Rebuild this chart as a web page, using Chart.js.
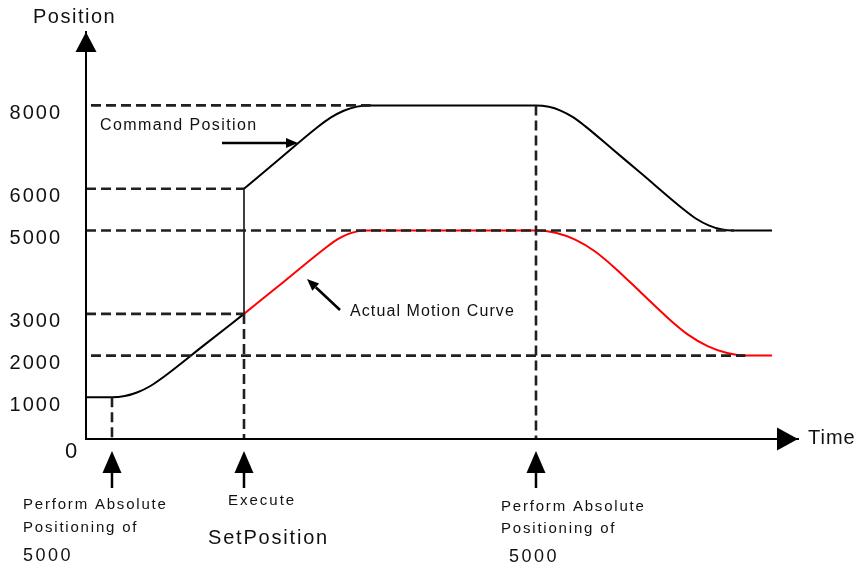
<!DOCTYPE html>
<html>
<head>
<meta charset="utf-8">
<script src="https://cdn.jsdelivr.net/npm/chart.js@4/dist/chart.umd.min.js"></script>
<style>
html,body{margin:0;padding:0;background:#fff;}
#c{display:block;}
</style>
</head>
<body>
<canvas id="c" width="861" height="567"></canvas>
<script>
// ---- data (time in arbitrary units, position in pulses) ----
const yTickValues = [1000, 2000, 3000, 5000, 6000, 8000];

const cmdBeforeT = [0, 3.65, 5.45, 7.25, 9.05, 10.85, 16.5, 22.19];
const cmdBeforeV = [1000, 1000, 1030, 1121, 1271, 1482, 2239, 3000];

const jumpT = [22.19, 22.19];
const jumpV = [3000, 6000];

const cmdAfterT = [22.19, 27, 32.5, 34.35, 36.2, 38.05, 39.9, 63.2, 65.0, 66.65, 68.4, 70.1, 74, 78, 84.0, 85.7, 87.45, 89.2, 90.9, 96.35];
const cmdAfterV = [6000, 6688, 7474, 7705, 7871, 7970, 8000, 8000, 7966, 7876, 7718, 7503, 6941, 6365, 5497, 5282, 5124, 5030, 5000, 5000];

const actualT = [22.19, 28, 33.9, 35.3, 36.7, 38.1, 39.5, 63.2, 65.95, 68.7, 71.45, 74.2, 78, 81.8, 84.55, 87.3, 90.05, 92.8, 96.35];
const actualV = [3000, 3802, 4616, 4785, 4906, 4979, 5000, 5000, 4945, 4779, 4502, 4115, 3503, 2891, 2503, 2227, 2061, 2000, 2000];

const refLevels = [8000, 6000, 5000, 3000, 2000];
const refStartT = [0.7, 0, 0, 0, 0.7];
const refEndT = [40, 22.19, 91, 22.19, 92.6];

const eventT = [3.65, 22.19, 63.2];
const eventTopV = [1000, 3000, 8000];

const FONT = '"Liberation Sans", Arial, Helvetica, sans-serif';
const DASH_COLOR = '#231f20';

function pts(xs, ys){ return xs.map((x,i)=>({x:x, y:ys[i]})); }

const datasets = [];
// dashed reference lines (drawn on top)
refLevels.forEach((v,i)=>{
  datasets.push({label:'ref'+v, data:[{x:refStartT[i],y:v},{x:refEndT[i],y:v}],
    borderColor:DASH_COLOR, borderWidth:2.6, borderDash:[10,5], pointRadius:0, showLine:true, tension:0});
});
eventT.forEach((t,i)=>{
  datasets.push({label:'ev'+i, data:[{x:t,y:eventTopV[i]},{x:t,y:0}],
    borderColor:DASH_COLOR, borderWidth:2.6, borderDash:[10,5], pointRadius:0, showLine:true, tension:0});
});
datasets.push({label:'Jump', data:pts(jumpT,jumpV), borderColor:'#111', borderWidth:1.6, pointRadius:0, showLine:true, tension:0});
datasets.push({label:'Command before', data:pts(cmdBeforeT,cmdBeforeV), borderColor:'#000', borderWidth:2, pointRadius:0, showLine:true, cubicInterpolationMode:'monotone'});
datasets.push({label:'Command Position', data:pts(cmdAfterT,cmdAfterV), borderColor:'#000', borderWidth:2, pointRadius:0, showLine:true, cubicInterpolationMode:'monotone'});
datasets.push({label:'Actual Motion Curve', data:pts(actualT,actualV), borderColor:'#ff0000', borderWidth:2, pointRadius:0, showLine:true, cubicInterpolationMode:'monotone'});

function txt(ctx, s, x, y, size, spacing, align){
  ctx.save();
  ctx.font = size + 'px ' + FONT;
  try { ctx.letterSpacing = (spacing||0) + 'px'; } catch(e) {}
  ctx.fillStyle = '#111';
  ctx.textAlign = align || 'left';
  ctx.textBaseline = 'middle';
  ctx.fillText(s, x, y);
  ctx.restore();
}
function arrow(ctx, x1, y1, x2, y2, headLen, headHalf, lw){
  const a = Math.atan2(y2-y1, x2-x1);
  const bx = x2 - headLen*Math.cos(a), by = y2 - headLen*Math.sin(a);
  ctx.save();
  ctx.strokeStyle = '#000'; ctx.fillStyle = '#000'; ctx.lineWidth = lw;
  ctx.beginPath(); ctx.moveTo(x1,y1); ctx.lineTo(bx,by); ctx.stroke();
  ctx.beginPath();
  ctx.moveTo(x2,y2);
  ctx.lineTo(bx + headHalf*Math.sin(a), by - headHalf*Math.cos(a));
  ctx.lineTo(bx - headHalf*Math.sin(a), by + headHalf*Math.cos(a));
  ctx.closePath(); ctx.fill();
  ctx.restore();
}

const annotations = {
  id:'annotations',
  beforeDraw(chart){
    try { chart.ctx.letterSpacing = '2px'; } catch(e) {}
  },
  beforeDatasetsDraw(chart){
    try { chart.ctx.letterSpacing = '0px'; } catch(e) {}
  },
  afterDraw(chart){
    const ctx = chart.ctx, a = chart.chartArea;
    const xs = chart.scales.x, ys = chart.scales.y;
    const ox = xs.getPixelForValue(0), oy = ys.getPixelForValue(0);
    // axis arrowheads
    arrow(ctx, ox, oy, ox, a.top, 20, 10.5, 2);
    arrow(ctx, ox, oy, a.right, oy, 21, 11.5, 2);
    txt(ctx, 'Position', 33, 17, 20, 1.5);
    txt(ctx, 'Time', a.right + 10, oy - 1, 20, 1);
    txt(ctx, '0', 65, 452, 22, 0);
    // callouts
    txt(ctx, 'Command Position', 100, 126, 16, 1.4);
    arrow(ctx, 222, 143, 298, 143, 12, 5, 2.5);
    txt(ctx, 'Actual Motion Curve', 350, 312, 16, 1.1);
    arrow(ctx, 340, 310, 307, 279, 12, 5, 2.5);
    // event arrows below the time axis
    eventT.forEach(t=>{
      const px = xs.getPixelForValue(t);
      arrow(ctx, px, 488, px, 451, 22, 9.5, 2.5);
    });
    txt(ctx, 'Perform Absolute', 23, 505, 15, 1.8);
    txt(ctx, 'Positioning of', 23, 528, 15, 1.8);
    txt(ctx, '5000', 23, 556, 18, 2.5);
    txt(ctx, 'Execute', 228, 501, 15, 2);
    txt(ctx, 'SetPosition', 208, 538, 20, 1.8);
    txt(ctx, 'Perform Absolute', 501, 507, 15, 1.8);
    txt(ctx, 'Positioning of', 501, 529, 15, 1.8);
    txt(ctx, '5000', 509, 557, 18, 2.5);
  }
};

new Chart(document.getElementById('c'), {
  type:'scatter',
  data:{datasets:datasets},
  options:{
    responsive:false,
    animation:false,
    devicePixelRatio:1,
    layout:{padding:{top:32, right:63, left:0, bottom:0}},
    plugins:{legend:{display:false}, tooltip:{enabled:false}},
    scales:{
      x:{type:'linear', min:0, max:100,
        grid:{display:false}, ticks:{display:false},
        border:{display:true, color:'#000', width:2},
        afterFit(s){ s.height = 128; }},
      y:{type:'linear', min:0, max:9760,
        grid:{display:false},
        border:{display:true, color:'#000', width:2},
        afterBuildTicks(s){ s.ticks = yTickValues.map(v=>({value:v})); },
        ticks:{autoSkip:false, padding:16, labelOffset:8, color:'#111',
          font:{family:FONT, size:20}, callback:v=>String(v)},
        afterFit(s){ s.width = 86; }}
    }
  },
  plugins:[annotations]
});
</script>
</body>
</html>
